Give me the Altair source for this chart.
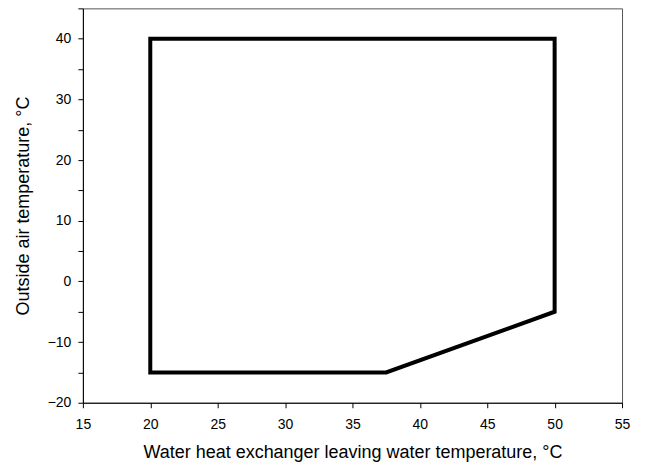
import altair as alt
import pandas as pd

# Operating envelope boundary (closed polygon)
water_temp = [20, 50, 50, 37.5, 20, 20]
outside_temp = [40, 40, -5, -15, -15, 40]
order = list(range(len(water_temp)))

x_ticks = [15, 20, 25, 30, 35, 40, 45, 50, 55]
y_ticks = [-20, -15, -10, -5, 0, 5, 10, 15, 20, 25, 30, 35, 40, 45]

df = pd.DataFrame({"x": water_temp, "y": outside_temp, "o": order})

font = "Liberation Sans"

chart = alt.Chart(df).mark_line(
    color="black", strokeWidth=4, strokeJoin="miter", strokeCap="square"
).encode(
    x=alt.X("x:Q", scale=alt.Scale(domain=[15, 55], nice=False, zero=False),
            axis=alt.Axis(values=x_ticks, title="Water heat exchanger leaving water temperature, °C",
                          grid=False, tickSize=5, labelPadding=10, titlePadding=12,
                          labelFlush=False)),
    y=alt.Y("y:Q", scale=alt.Scale(domain=[-20, 45], nice=False, zero=False),
            axis=alt.Axis(values=y_ticks, title="Outside air temperature, °C",
                          labelExpr="datum.value % 10 == 0 && datum.value < 45 ? datum.label : ''",
                          grid=False, tickSize=5, labelPadding=7, titlePadding=15,
                          labelFlush=False)),
    order="o:O",
).properties(
    width=540, height=395,
    autosize=alt.AutoSizeParams(type="none"),
    padding={"left": 75, "top": 0, "right": 15, "bottom": 62},
).configure_view(
    stroke="#555555", strokeWidth=1
).configure_axis(
    domainColor="black", tickColor="black", labelColor="black", titleColor="black",
    labelFont=font, titleFont=font, labelFontSize=14, titleFontSize=18,
    titleFontWeight="normal", domainWidth=1, tickWidth=1,
)

chart.save("out.html", embed_options={"renderer": "svg", "actions": False})
